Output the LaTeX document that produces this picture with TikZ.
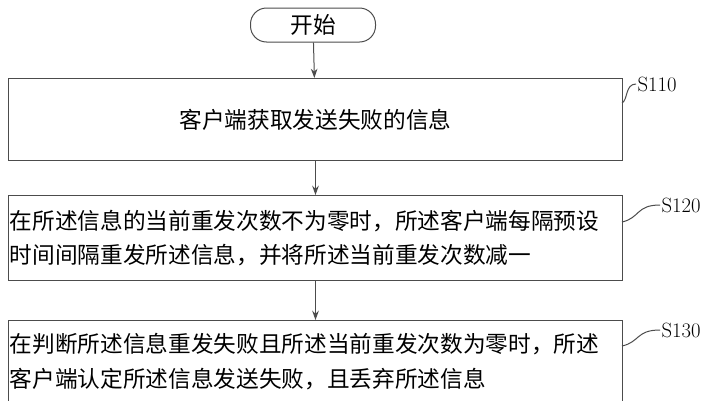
\documentclass[tikz,border=0pt]{standalone}
\usepackage{fontspec}
\newfontfamily\cjk{Noto Sans CJK SC}
\usetikzlibrary{arrows.meta}
\tikzset{every picture/.style={line width=0.75pt}}
\tikzset{stepbox/.style={draw=black!70,rectangle,minimum width=614*0.75pt,anchor=north west,inner sep=0pt},
  flow/.style={draw=black!70,-{Stealth[length=7pt,width=5pt]}},
  tag/.style={anchor=west,inner sep=0.75pt,font=\rmfamily\fontsize{15.5}{18}\selectfont}}
\begin{document}
\begin{tikzpicture}[x=0.75pt,y=0.75pt,yscale=-1,xscale=1,font=\cjk\fontsize{17}{26}\selectfont]
\useasboundingbox (0,0) rectangle (713,400);
\clip (0,0) rectangle (713,400);

% Start
\node (start) [draw=black!70,rounded corners=12pt,minimum width=125*0.75pt,minimum height=34*0.75pt] at (313,25) {开始};
% Steps
\node (s1) [stepbox,minimum height=82*0.75pt] at (8,78) {};
\node at (s1.center) {客户端获取发送失败的信息};
\node (s2) [stepbox,minimum height=85*0.75pt] at (8,195) {};
\node [anchor=west,align=left,inner sep=1pt] at (s2.west) {在所述信息的当前重发次数不为零时，所述客户端每隔预设\\时间间隔重发所述信息，并将所述当前重发次数减一};
\node (s3) [stepbox,minimum height=90*0.75pt] at (8,320) {};
\node [anchor=west,align=left,inner sep=1pt] at ([yshift=-3]s3.west) {在判断所述信息重发失败且所述当前重发次数为零时，所述\\客户端认定所述信息发送失败，且丢弃所述信息};

% Arrows
\draw [flow] (start) -- (s1);
\draw [flow] (s1) -- (s2);
\draw [flow] (s2) -- (s3.north);

% Labels
\node (t1) [tag] at (636,84) {S110};
\node (t2) [tag] at (660,205) {S120};
\node (t3) [tag] at (660,330) {S130};
\draw [black!70] (622,103) .. controls (628,100) and (625,84) .. (t1.west);
\draw [black!70] (622,222) .. controls (640,218) and (636,205) .. (t2.west);
\draw [black!70] (622,346) .. controls (640,342) and (636,330) .. (t3.west);
\end{tikzpicture}
\end{document}
